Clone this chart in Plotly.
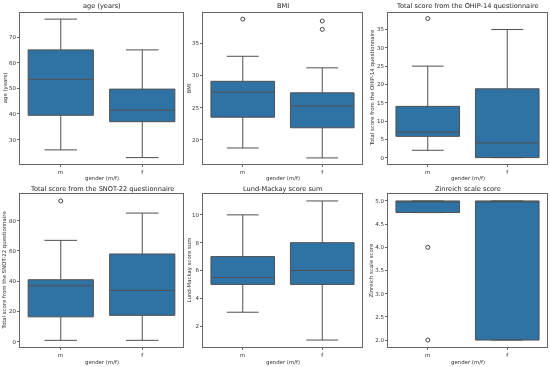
import plotly.graph_objects as go

# ---- data ----
genders = ["m", "f"]
x_label = "gender (m/f)"
titles = ["age (years)", "BMI", "Total score from the OHIP-14 questionnaire",
          "Total score from the SNOT-22 questionnaire", "Lund-Mackay score sum",
          "Zinreich scale score"]
y_labels = ["age (years)", "BMI", "Total score from the OHIP-14 questionnaire",
            "Total score from the SNOT-22 questionnaire", "Lund-Mackay score sum",
            "Zinreich scale score"]

age_q1 = [39.5, 37.0]; age_med = [53.5, 41.5]; age_q3 = [65.0, 49.7]
age_lo = [26.0, 23.0]; age_hi = [77.0, 65.0]; age_out = [[], []]

bmi_q1 = [23.5, 21.85]; bmi_med = [27.4, 25.25]; bmi_q3 = [29.1, 27.3]
bmi_lo = [18.7, 17.15]; bmi_hi = [33.0, 31.2]; bmi_out = [[38.8], [37.2, 38.5]]

ohip_q1 = [5.8, 0.0]; ohip_med = [7.0, 4.0]; ohip_q3 = [14.0, 18.8]
ohip_lo = [2.0, 0.0]; ohip_hi = [25.0, 35.0]; ohip_out = [[38.0], []]

snot_q1 = [16.5, 17.5]; snot_med = [37.0, 34.0]; snot_q3 = [41.0, 58.0]
snot_lo = [1.0, 1.0]; snot_hi = [67.0, 85.0]; snot_out = [[93.0], []]

lm_q1 = [5.0, 5.0]; lm_med = [5.5, 6.0]; lm_q3 = [7.0, 8.0]
lm_lo = [3.0, 1.0]; lm_hi = [10.0, 11.0]; lm_out = [[], []]

zin_q1 = [4.75, 2.0]; zin_med = [5.0, 5.0]; zin_q3 = [5.0, 5.0]
zin_lo = [4.75, 2.0]; zin_hi = [5.0, 5.0]; zin_out = [[4.0, 2.0], []]

stats = [
    (age_q1, age_med, age_q3, age_lo, age_hi, age_out),
    (bmi_q1, bmi_med, bmi_q3, bmi_lo, bmi_hi, bmi_out),
    (ohip_q1, ohip_med, ohip_q3, ohip_lo, ohip_hi, ohip_out),
    (snot_q1, snot_med, snot_q3, snot_lo, snot_hi, snot_out),
    (lm_q1, lm_med, lm_q3, lm_lo, lm_hi, lm_out),
    (zin_q1, zin_med, zin_q3, zin_lo, zin_hi, zin_out),
]
y_ranges = [[20.5, 79.5], [16.2, 39.8], [-1.75, 39.6], [-3.4, 97.6], [0.5, 11.5], [1.85, 5.15]]
y_ticks = [[30, 40, 50, 60, 70], [20, 25, 30, 35], [0, 5, 10, 15, 20, 25, 30, 35],
           [0, 20, 40, 60, 80], [2, 4, 6, 8, 10], [2.0, 2.5, 3.0, 3.5, 4.0, 4.5, 5.0]]
y_fmt = ["", "", "", "", "", ".1f"]

W, H = 550, 367
x_px = [(20, 183), (203, 362), (388, 547)]
y_px = [(12.7, 164), (194, 347)]
ylab_x = [[5, 189, 372], [4, 189, 370]]
xlab_y = [178, 362]
title_y = [6.5, 189]

BOX = "#2f72a4"
LINE = "#505050"
FONT = "DejaVu Sans"
TXT = "#333333"

fig = go.Figure()
layout = {}
ann = []
for i in range(6):
    r, c = divmod(i, 3)
    n = i + 1
    xa = "x" if n == 1 else f"x{n}"
    ya = "y" if n == 1 else f"y{n}"
    q1, med, q3, lo, hi, out = stats[i]
    for k in range(2):
        fig.add_trace(go.Box(
            x=[k], q1=[q1[k]], median=[med[k]], q3=[q3[k]],
            lowerfence=[lo[k]], upperfence=[hi[k]],
            width=0.8, whiskerwidth=0.5, fillcolor=BOX,
            line=dict(color=LINE, width=1), boxpoints=False,
            showlegend=False, xaxis=xa, yaxis=ya, hoverinfo="skip"))
        if out[k]:
            fig.add_trace(go.Scatter(
                x=[k] * len(out[k]), y=out[k], mode="markers",
                marker=dict(symbol="circle-open", size=4, color="#444",
                            line=dict(width=1)),
                showlegend=False, xaxis=xa, yaxis=ya, hoverinfo="skip"))
    x0, x1 = x_px[c]
    y0, y1 = y_px[r]
    common = dict(showline=True, mirror=True, linecolor="#666", linewidth=1,
                  ticks="outside", ticklen=2, tickcolor="#666", showgrid=False,
                  zeroline=False, automargin=False,
                  tickfont=dict(size=5.5, color=TXT, family=FONT))
    layout["xaxis" if n == 1 else f"xaxis{n}"] = dict(
        domain=[x0 / W, x1 / W], anchor=ya, range=[-0.5, 1.5],
        tickmode="array", tickvals=[0, 1], ticktext=genders, **common)
    layout["yaxis" if n == 1 else f"yaxis{n}"] = dict(
        domain=[1 - y1 / H, 1 - y0 / H], anchor=xa, range=y_ranges[i],
        tickmode="array", tickvals=y_ticks[i], tickformat=y_fmt[i], **common)
    # subplot title
    ann.append(dict(text=titles[i], x=(x0 + x1) / 2 / W, y=1 - title_y[r] / H,
                    xref="paper", yref="paper", xanchor="center", yanchor="middle",
                    showarrow=False, font=dict(size=6.6, color="#222222", family=FONT)))
    # x label
    ann.append(dict(text=x_label, x=(x0 + x1) / 2 / W, y=1 - xlab_y[r] / H,
                    xref="paper", yref="paper", xanchor="center", yanchor="middle",
                    showarrow=False, font=dict(size=5.4, color=TXT, family=FONT)))
    # y label
    ann.append(dict(text=y_labels[i], x=ylab_x[r][c] / W, y=1 - (y0 + y1) / 2 / H,
                    xref="paper", yref="paper", xanchor="center", yanchor="middle",
                    textangle=-90, showarrow=False,
                    font=dict(size=5.4, color=TXT, family=FONT)))

fig.update_layout(width=W, height=H, margin=dict(l=0, r=0, t=0, b=0),
                  paper_bgcolor="white", plot_bgcolor="white",
                  font=dict(family=FONT, color=TXT),
                  annotations=ann, **layout)
fig.write_html(
    "out.html", config={"displayModeBar": False, "staticPlot": True},
    post_script=("document.body.style.margin='0';document.body.style.padding='0';"
                 "var g=document.querySelector('.plotly-graph-div');"
                 "g.style.opacity='0.999';g.style.willChange='transform';"))
